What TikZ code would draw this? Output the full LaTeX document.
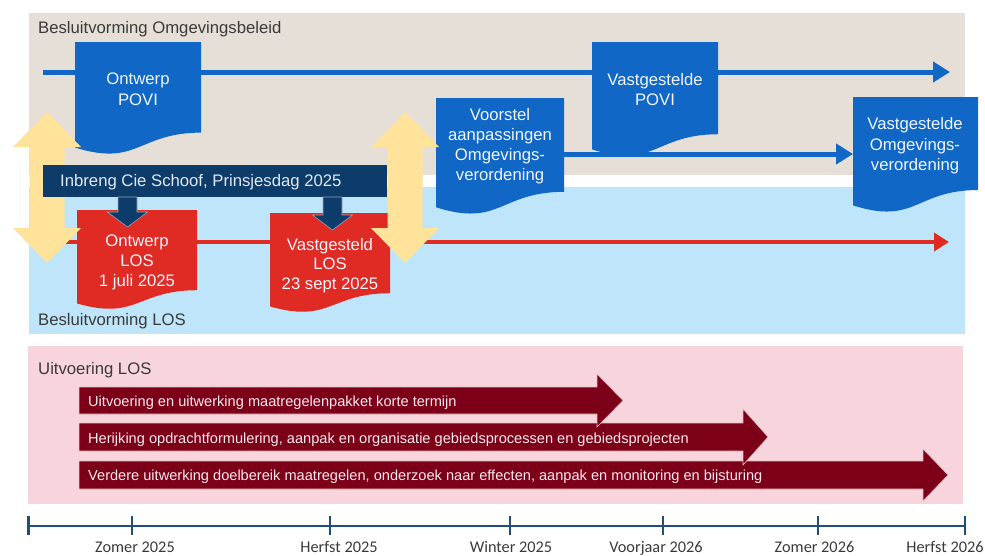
\documentclass[tikz,border=0pt]{standalone}
\usepackage{fontspec}
\setmainfont{Liberation Sans}
\newfontfamily\calibfont{Carlito}
\usetikzlibrary{arrows.meta}
\definecolor{beigebg}{HTML}{E6DFD8}
\definecolor{lightbluebg}{HTML}{BEE5FA}
\definecolor{pinkbg}{HTML}{F8D5DC}
\definecolor{docblue}{HTML}{1067C5}
\definecolor{navybar}{HTML}{0D3C6A}
\definecolor{docred}{HTML}{E02B25}
\definecolor{paleyellow}{HTML}{FFE39B}
\definecolor{darkred}{HTML}{7D0019}
\definecolor{tlblue}{HTML}{1F4E79}
\definecolor{titlegray}{HTML}{3A3A3A}
\begin{document}
\begin{tikzpicture}[x=1pt,y=-1pt,
  paneltitle/.style={anchor=base west,inner sep=0pt,text=titlegray,font=\fontsize{16.7}{19}\selectfont},
  doctext/.style={anchor=north,inner sep=0pt,align=center,text=white!94!docblue,font=\fontsize{16.7}{20.2}\selectfont},
  bartext/.style={anchor=base west,inner sep=0pt,text=white!92!darkred,font=\fontsize{14.6}{17}\selectfont},
  tllabel/.style={anchor=base,inner sep=0pt,text=titlegray,font=\calibfont\fontsize{16.3}{19}\selectfont},
  bluearrow/.style={docblue,line width=5pt,-{Triangle[length=17pt,width=20pt]}},
  redarrow/.style={docred,line width=4.7pt,-{Triangle[length=15pt,width=18pt]}},
  pics/docshape/.style n args={3}{code={
    \fill[#3] (0,0) -- (#1,0) -- (#1,{0.802*#2})
      .. controls ({0.5*#1},{0.802*#2}) and ({0.5*#1},{1.1075*#2}) .. (0,{0.934*#2}) -- cycle;}},
]
\useasboundingbox (0,0) rectangle (985,555);
\fill[white] (0,0) rectangle (985,555);

% panels
\fill[beigebg] (29,13) rectangle (965,175);
\fill[lightbluebg] (29,187) rectangle (965,334);
\fill[pinkbg] (28,346) rectangle (963,504);

\node[paneltitle] (t1) at (38,33.5) {Besluitvorming Omgevingsbeleid};
\node[paneltitle] (t2) at (38,325.5) {Besluitvorming LOS};
\node[paneltitle] (t3) at (38,374) {Uitvoering LOS};

% coordinates for lines
\coordinate (topstart) at (43,72);
\coordinate (topend) at (950,72);
\coordinate (midstart) at (564,154);
\coordinate (midend) at (853,154);
\coordinate (redstart) at (50,242);
\coordinate (redend) at (949,242);

\draw[bluearrow] (topstart) -- (topend);
\draw[bluearrow] (midstart) -- (midend);
\draw[redarrow] (redstart) -- (redend);

% blue documents
\pic at (75,42) {docshape={126}{113}{docblue}};
\node[doctext] (povi1) at (138,73) {Ontwerp\\POVI};
\pic at (592,42) {docshape={126}{115}{docblue}};
\node[doctext] (povi2) at (655,73) {Vastgestelde\\POVI};
\pic at (436,98) {docshape={128}{117}{docblue}};
\node[doctext] (voorstel) at (500,108) {Voorstel\\aanpassingen\\Omgevings-\\verordening};
\pic at (853,97) {docshape={125}{116}{docblue}};
\node[doctext] (vov) at (915,117.5) {Vastgestelde\\Omgevings-\\verordening};

% red documents
\pic at (77,210) {docshape={120}{100}{docred}};
\node[doctext,font=\fontsize{16.7}{20}\selectfont] (los1) at (137,235) {Ontwerp\\LOS\\1 juli 2025};
\pic at (270,213) {docshape={120}{100}{docred}};
\node[doctext,font=\fontsize{16.7}{19.6}\selectfont] (los2) at (330,238) {Vastgesteld\\LOS\\23 sept 2025};

% yellow double arrows
\foreach \cx in {47,405}{
  \fill[paleyellow] (\cx,112) -- (\cx+34,147) -- (\cx+17.5,147) -- (\cx+17.5,228) -- (\cx+34,228)
    -- (\cx,263) -- (\cx-34,228) -- (\cx-17.5,228) -- (\cx-17.5,147) -- (\cx-34,147) -- cycle;
}

% Inbreng bar
\node[fill=navybar,minimum width=344pt,minimum height=32pt,inner sep=0pt,anchor=north west] (bar) at (43,165) {};
\node[anchor=base west,inner sep=0pt,text=white!88!navybar,font=\fontsize{16.7}{19}\selectfont] (bartxt) at (60,186.5) {Inbreng Cie Schoof, Prinsjesdag 2025};

% small navy arrows
\foreach \cx/\ty in {127.5/227,332.5/230}{
  \filldraw[fill=navybar,draw=white!55!navybar,line width=0.6pt]
    (\cx-9.5,197) -- (\cx+9.5,197) -- (\cx+9.5,\ty-15) -- (\cx+20,\ty-15) -- (\cx,\ty)
    -- (\cx-20,\ty-15) -- (\cx-9.5,\ty-15) -- cycle;
}

% execution arrows
\filldraw[fill=darkred,draw=white!75!darkred,line width=0.6pt]
  (79,461) -- (923,461) -- (923,449) -- (948,475) -- (923,501) -- (923,489) -- (79,489) -- cycle;
\filldraw[fill=darkred,draw=white!75!darkred,line width=0.6pt]
  (79,423) -- (743,423) -- (743,409) -- (768,437) -- (743,465) -- (743,451) -- (79,451) -- cycle;
\filldraw[fill=darkred,draw=white!75!darkred,line width=0.6pt]
  (79,387) -- (597,387) -- (597,374) -- (623,400.5) -- (597,427) -- (597,414) -- (79,414) -- cycle;
\node[bartext] (u1) at (88,406) {Uitvoering en uitwerking maatregelenpakket korte termijn};
\node[bartext] (u2) at (88,443) {Herijking opdrachtformulering, aanpak en organisatie gebiedsprocessen en gebiedsprojecten};
\node[bartext] (u3) at (88,480) {Verdere uitwerking doelbereik maatregelen, onderzoek naar effecten, aanpak en monitoring en bijsturing};

% timeline
\coordinate (tl0) at (28.5,526);
\coordinate (tl6) at (965,526);
\draw[tlblue,line width=2.6pt] (tl0) -- (tl6);
\foreach \tx in {28.5,132,330,510,663,818,965}{
  \draw[tlblue,line width=2.6pt] (\tx,516) -- (\tx,535);
}
\node[tllabel] (l1) at (135,552) {Zomer 2025};
\node[tllabel] (l2) at (339,552) {Herfst 2025};
\node[tllabel] (l3) at (511,552) {Winter 2025};
\node[tllabel] (l4) at (656,552) {Voorjaar 2026};
\node[tllabel] (l5) at (814.5,552) {Zomer 2026};
\node[tllabel] (l6) at (945,552) {Herfst 2026};
\end{tikzpicture}
\end{document}
